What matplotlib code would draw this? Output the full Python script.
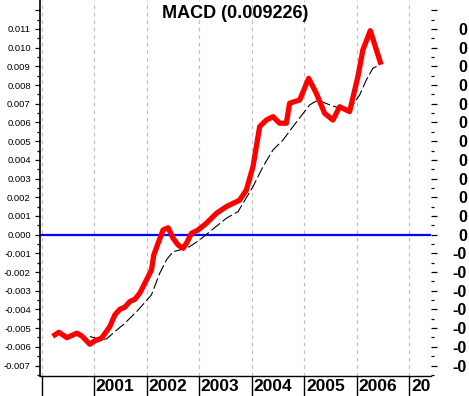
import matplotlib
matplotlib.use("Agg")
import matplotlib.pyplot as plt
import matplotlib.transforms as mtransforms
import numpy as np

plt.rcParams['font.family'] = ['Liberation Sans', 'DejaVu Sans']

# MACD line (red) and signal line (black dashed), x in fractional years
macd_x = [2000.253, 2000.329, 2000.481, 2000.671, 2000.766, 2000.918, 2001.013, 2001.141,
          2001.298, 2001.395, 2001.490, 2001.584, 2001.679, 2001.774, 2001.869, 2001.996,
          2002.091, 2002.135, 2002.217, 2002.312, 2002.407, 2002.502, 2002.597, 2002.692,
          2002.757, 2002.852, 2002.977, 2003.137, 2003.327, 2003.517, 2003.707, 2003.770,
          2003.897, 2004.023, 2004.150, 2004.278, 2004.403, 2004.530, 2004.658, 2004.720,
          2004.911, 2005.082, 2005.228, 2005.386, 2005.544, 2005.671, 2005.861, 2006.019,
          2006.114, 2006.255, 2006.445]
macd_y = [-0.00536, -0.00522, -0.00551, -0.00527, -0.00542, -0.00586, -0.00568, -0.00554,
          -0.00492, -0.00429, -0.00399, -0.00388, -0.00358, -0.00346, -0.00313, -0.00242,
          -0.00189, -0.00109, -0.00046, 0.00025, 0.00037, -0.00019, -0.00055, -0.00073,
          -0.00046, 0.00007, 0.00025, 0.00061, 0.00114, 0.00150, 0.00176, 0.00185,
          0.00239, 0.00364, 0.00578, 0.00613, 0.00631, 0.00596, 0.00596, 0.00703,
          0.00720, 0.00836, 0.00756, 0.00649, 0.00613, 0.00684, 0.00658, 0.00845,
          0.00988, 0.01091, 0.009226]

sig_x = [2000.918, 2001.108, 2001.235, 2001.393, 2001.584, 2001.837, 2002.091, 2002.249,
         2002.376, 2002.502, 2002.629, 2002.819, 2003.010, 2003.200, 2003.517, 2003.738,
         2004.023, 2004.214, 2004.403, 2004.594, 2004.784, 2005.101, 2005.259, 2005.481,
         2005.671, 2005.861, 2006.052, 2006.179, 2006.305, 2006.433]
sig_y = [-0.00545, -0.00559, -0.00558, -0.00519, -0.00474, -0.00403, -0.00322, -0.00206,
         -0.00135, -0.00091, -0.00082, -0.00064, -0.00028, 0.00016, 0.00088, 0.00123,
         0.00257, 0.00364, 0.00453, 0.00506, 0.00578, 0.00694, 0.00720, 0.00694,
         0.00676, 0.00667, 0.00747, 0.00827, 0.00890, 0.00907]

years = [2000, 2001, 2002, 2003, 2004, 2005, 2006, 2007]
year_labels = ['2001', '2002', '2003', '2004', '2005', '2006', '2007']
major_ticks = [-0.007, -0.006, -0.005, -0.004, -0.003, -0.002, -0.001, 0.0,
               0.001, 0.002, 0.003, 0.004, 0.005, 0.006, 0.007, 0.008, 0.009,
               0.010, 0.011, 0.012]
title = "MACD (0.009226)"

W, H = 469, 396
fig = plt.figure(figsize=(W / 100, H / 100), dpi=100)
ax = fig.add_axes([40 / W, 20 / H, 391 / W, 376 / H])

ax.set_xlim(1999.97, 2007.41)
ax.set_ylim(-0.00756, 0.01255)

ax.axhline(0, color='#0000ff', lw=1.6, zorder=2)
ax.plot(sig_x, sig_y, color='black', lw=0.8, dashes=(10, 3), zorder=3)
ax.plot(macd_x, macd_y, color='#ff0000', lw=3.8, solid_joinstyle='round', zorder=4)

# x axis: year boundaries as long ticks, dashed grid
ax.set_xticks(years)
ax.set_xticklabels([])
ax.tick_params(axis='x', direction='out', length=14.4, width=1.0, color='black')
ax.grid(axis='x', color='#c0c0c0', linestyle=(0, (3, 3)), lw=0.9)

# left y axis
ax.set_yticks(major_ticks)
ax.set_yticklabels([('%.3f' % v).replace('-0.000', '0.000') if v < 0.0115 else '' for v in major_ticks])
ax.set_yticks(np.arange(-0.0075, 0.0125, 0.001), minor=True)
ax.tick_params(axis='y', which='major', direction='out', length=3.6, width=0.9,
               labelsize=6.8, pad=3)
ax.tick_params(axis='y', which='minor', direction='out', length=2.2, width=0.9)

for s in ['top', 'right']:
    ax.spines[s].set_visible(False)
ax.spines['left'].set_linewidth(1.2)
ax.spines['bottom'].set_linewidth(1.0)

# right y axis with truncated bold labels
ax2 = ax.twinx()
ax2.set_ylim(ax.get_ylim())
ax2.set_yticks(major_ticks)
ax2.set_yticklabels([('-0' if v < 0 else '0') if v < 0.0115 else '' for v in major_ticks],
                    ha='right', fontweight='bold', fontsize=11.5)
ax2.set_yticks(np.arange(-0.0075, 0.0125, 0.001), minor=True)
ax2.tick_params(axis='y', which='major', direction='out', length=4.3, width=0.9, pad=21.5)
ax2.tick_params(axis='y', which='minor', direction='out', length=2.4, width=0.9)
for s in ax2.spines.values():
    s.set_visible(False)

# year labels in the band under the plot, clipped at the right edge
trans = mtransforms.blended_transform_factory(ax.transData, fig.transFigure)
clip = mtransforms.TransformedBbox(mtransforms.Bbox([[40 / W, 0], [431 / W, 20 / H]]),
                                   fig.transFigure)
for yr, lab in zip(years[1:], year_labels):
    t = ax.text(yr + 0.03, 9.5 / H, lab, transform=trans, ha='left', va='center',
                fontsize=12.5, fontweight='bold')
    t.set_clip_path(None)
    t.set_clip_box(clip)
    t.set_clip_on(True)

ax.text(0.5, 1 - 13 / 376, title, transform=ax.transAxes, ha='center', va='center',
        fontsize=13, fontweight='bold')

fig.savefig('out.png', dpi=100)
